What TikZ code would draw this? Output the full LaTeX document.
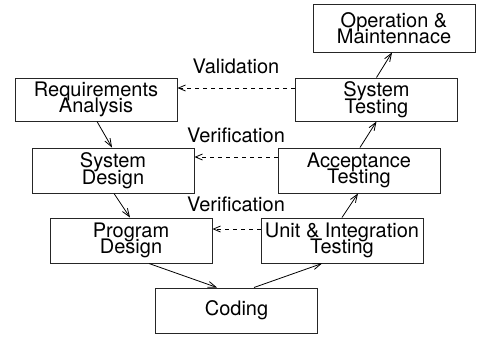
\documentclass[tikz,border=0pt]{standalone}
\usepackage{fontspec}
\setmainfont{TeX Gyre Heros}
\usetikzlibrary{arrows.meta}
% tight two-line labels inside the boxes
\newcommand\phasefont{\fontsize{20}{16.5}\selectfont\lineskiplimit -20pt\relax\lineskip 0pt\relax}

\begin{document}
\begin{tikzpicture}[x=1pt,y=-1pt,
  phase/.style={draw=black!85,line width=1pt,minimum width=162pt,minimum height=45pt,
    inner sep=0pt,align=center,font=\phasefont},
  lbl/.style={inner sep=0pt,font=\fontsize{20}{16.5}\selectfont},
  flow/.style={line width=0.8pt,-{Straight Barb[length=8pt,width=6pt]}},
  check/.style={line width=0.8pt,dash pattern=on 4pt off 4pt,-{Straight Barb[length=7pt,width=6pt]}}]
  \useasboundingbox (0,0) rectangle (477,338);

  % phases of the V model
  \node[phase,minimum height=48pt] (op) at (394,28) {Operation \&\\Maintennace};
  \node[phase,minimum height=43pt] (req) at (96,99.5) {Requirements\\Analysis};
  \node[phase,minimum height=43pt] (st) at (376.5,99.5) {System\\Testing};
  \node[phase] (sd) at (113,170.5) {System\\Design};
  \node[phase] (at) at (359,170.5) {Acceptance\\Testing};
  \node[phase] (pd) at (131,240.5) {Program\\Design};
  \node[phase] (ut) at (342,240.5) {Unit \& Integration\\Testing};
  \node[phase] (cod) at (236.5,310.5) {Coding};

  % labels of the checks
  \node[lbl] (val) at (236,66) {Validation};
  \node[lbl] (ver1) at (236,135) {Verification};
  \node[lbl] (ver2) at (236,204) {Verification};

  % development flow
  \draw[flow] ([xshift=1pt]req.south) -- ([xshift=-1pt]sd.north);
  \draw[flow] ([xshift=1pt]sd.south) -- ([xshift=-1pt]pd.north);
  \draw[flow] ([xshift=18pt]pd.south) -- ([xshift=-19.5pt]cod.north);
  \draw[flow] ([xshift=17.5pt]cod.north) -- ([xshift=-20pt]ut.south);
  \draw[flow] (ut.north) -- ([xshift=-1pt]at.south);
  \draw[flow] ([xshift=1pt]at.north) -- (st.south);
  \draw[flow] (st.north) -- ([xshift=-2pt]op.south);

  % validation and verification
  \draw[check] ([yshift=11.5pt]st.west) -- ([yshift=11.5pt]req.east);
  \draw[check] ([yshift=13.5pt]at.west) -- ([yshift=13.5pt]sd.east);
  \draw[check] ([yshift=11.5pt]ut.west) -- ([yshift=11.5pt]pd.east);
\end{tikzpicture}
\end{document}
